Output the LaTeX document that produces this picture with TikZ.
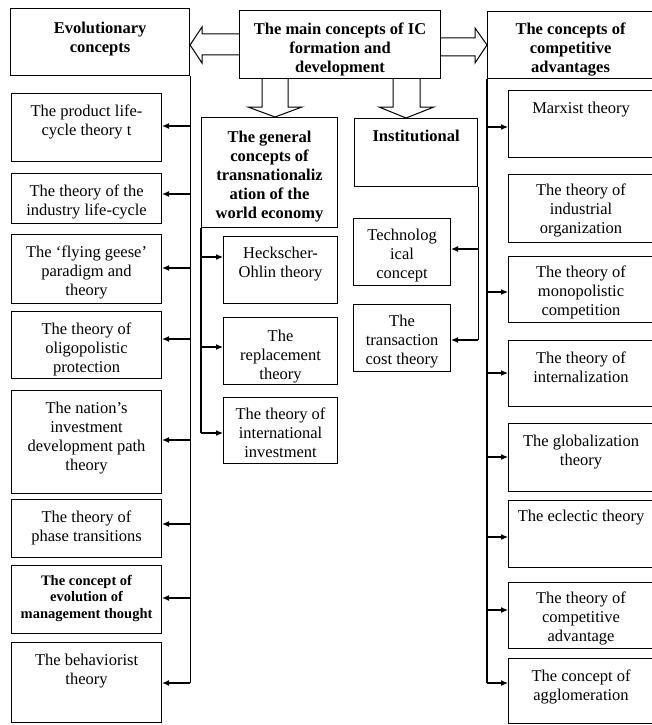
\documentclass[tikz,border=0pt]{standalone}
\usepackage{fontspec}
\setmainfont{Liberation Serif}
\usetikzlibrary{arrows.meta}

% box text: width, height, text set from the top
\newcommand{\boxtxt}[4][22.5pt]{\parbox[c][#3pt][t]{#2pt}{\centering\rule{0pt}{#1}#4}}

\begin{document}
\begin{tikzpicture}[x=1pt, y=-1pt, line width=1.1pt,
    box/.style={draw, inner sep=0pt, anchor=north west, font=\fontsize{16.5}{19}\selectfont},
    head/.style={box, font=\fontsize{16.5}{19}\selectfont\bfseries},
    small/.style={box, font=\fontsize{14.5}{16.5}\selectfont\bfseries},
    arr/.style={-{Latex[length=7pt,width=6pt]}},
    hollow/.style={line width=1pt}]

    \useasboundingbox (0,0) rectangle (652,725);

    % headings
    \node[head] (evo) at (10,8) {\boxtxt[25pt]{179}{67}{Evolutionary\\concepts}};
    \node[head] (main) at (239,10) {\boxtxt[23.5pt]{201}{68}{The main concepts of IC\\formation and\\development}};
    \node[head] (comp) at (487,11) {\boxtxt{166}{67}{The concepts of\\competitive\\advantages}};
    \node[head] (gen) at (201,117) {\boxtxt[25pt]{136}{110}{The general\\concepts of\\transnationaliz\\ation of the\\world economy}};
    \node[head] (inst) at (354,118) {\boxtxt{123}{68}{Institutional}};

    % hollow arrows out of the main box
    \draw[hollow] (main.west |- 0,34) -- (202,34) -- (202,27) -- (evo.east |- 0,45)
        -- (202,63) -- (202,55) -- (main.west |- 0,55);
    \draw[hollow] (main.east |- 0,38) -- (475,38) -- (475,28) -- (comp.west |- 0,45)
        -- (475,63) -- (475,56) -- (main.east |- 0,56);
    \draw[hollow] (main.south -| 262,0) -- (262,107) -- (248,107) -- (gen.north -| 275,0)
        -- (302,107) -- (288,107) -- (main.south -| 288,0);
    \draw[hollow] (main.south -| 393,0) -- (393,107) -- (379,107) -- (inst.north -| 406,0)
        -- (434,107) -- (420,107) -- (main.south -| 420,0);

    % evolutionary concepts
    \node[box] (prod) at (11,93) {\boxtxt{150}{68}{The product life-\\cycle theory t}};
    \node[box] (indu) at (11,173) {\boxtxt{150}{50}{The theory of the\\industry life-cycle}};
    \node[box] (geese) at (11,234) {\boxtxt{150}{69}{The ‘flying geese’\\paradigm and\\theory}};
    \node[box] (oligo) at (11,311) {\boxtxt{150}{67}{The theory of\\oligopolistic\\protection}};
    \node[box] (nation) at (11,390) {\boxtxt{150}{103}{The nation’s\\investment\\development path\\theory}};
    \node[box] (phase) at (11,499) {\boxtxt{150}{58}{The theory of\\phase transitions}};
    \node[small] (mgmt) at (11,565) {\boxtxt[19.5pt]{150}{68}{The concept of\\evolution of\\management thought}};
    \node[box] (behav) at (11,642) {\boxtxt{150}{80}{The behaviorist\\theory}};

    % general concepts
    \node[box] (heck) at (223,236) {\boxtxt[21.5pt]{114}{67}{Heckscher-\\Ohlin theory}};
    \node[box] (repl) at (223,317) {\boxtxt[24pt]{114}{67}{The\\replacement\\theory}};
    \node[box] (intl) at (223,397) {\boxtxt[21.5pt]{114}{66}{The theory of\\international\\investment}};

    % institutional
    \node[box] (tech) at (353,218) {\boxtxt[21.5pt]{97}{67}{Technolog\\ical\\concept}};
    \node[box] (trans) at (353,304) {\boxtxt[21.5pt]{97}{67}{The\\transaction\\cost theory}};

    % competitive advantages
    \node[box] (marx) at (508,90) {\boxtxt{145}{67}{Marxist theory}};
    \node[box] (indorg) at (508,174) {\boxtxt[21pt]{145}{68}{The theory of\\industrial\\organization}};
    \node[box] (mono) at (508,256) {\boxtxt[21pt]{145}{66}{The theory of\\monopolistic\\competition}};
    \node[box] (intern) at (508,340) {\boxtxt{145}{66}{The theory of\\internalization}};
    \node[box] (glob) at (508,423) {\boxtxt{145}{68}{The globalization\\theory}};
    \node[box] (ecl) at (508,500) {\boxtxt[21pt]{145}{67}{The eclectic theory}};
    \node[box] (cadv) at (508,582) {\boxtxt[21pt]{145}{66}{The theory of\\competitive\\advantage}};
    \node[box] (aggl) at (508,658) {\boxtxt{145}{65}{The concept of\\agglomeration}};

    % trunk lines
    \coordinate (lend) at (evo.south east |- 0,683);
    \coordinate (rend) at (comp.south west |- 0,683);
    \coordinate (gend) at (gen.south west |- 0,433);
    \coordinate (iend) at (inst.south east |- 0,340);
    \draw (evo.south east) -- (lend);
    \draw (comp.south west) -- (rend);
    \draw (gen.south west) -- (gend);
    \draw (inst.south east) -- (iend);

    % arrows to the left column
    \draw[arr] (lend |- 0,126) -- (prod.east |- 0,126);
    \draw[arr] (lend |- 0,194) -- (indu.east |- 0,194);
    \draw[arr] (lend |- 0,268) -- (geese.east |- 0,268);
    \draw[arr] (lend |- 0,339) -- (oligo.east |- 0,339);
    \draw[arr] (lend |- 0,440) -- (nation.east |- 0,440);
    \draw[arr] (lend |- 0,524) -- (phase.east |- 0,524);
    \draw[arr] (lend |- 0,598) -- (mgmt.east |- 0,598);
    \draw[arr] (lend) -- (behav.east |- lend);

    % arrows under the general concepts
    \draw[arr] (gend |- 0,257) -- (heck.west |- 0,257);
    \draw[arr] (gend |- 0,347) -- (repl.west |- 0,347);
    \draw[arr] (gend) -- (intl.west |- gend);

    % arrows under institutional
    \draw[arr] (iend |- 0,249) -- (tech.east |- 0,249);
    \draw[arr] (iend) -- (trans.east |- iend);

    % arrows to the right column
    \draw[arr] (rend |- 0,127) -- (marx.west |- 0,127);
    \draw[arr] (rend |- 0,292) -- (mono.west |- 0,292);
    \draw[arr] (rend |- 0,373) -- (intern.west |- 0,373);
    \draw[arr] (rend |- 0,457) -- (glob.west |- 0,457);
    \draw[arr] (rend |- 0,537) -- (ecl.west |- 0,537);
    \draw[arr] (rend |- 0,610) -- (cadv.west |- 0,610);
    \draw[arr] (rend) -- (aggl.west |- rend);
\end{tikzpicture}
\end{document}
